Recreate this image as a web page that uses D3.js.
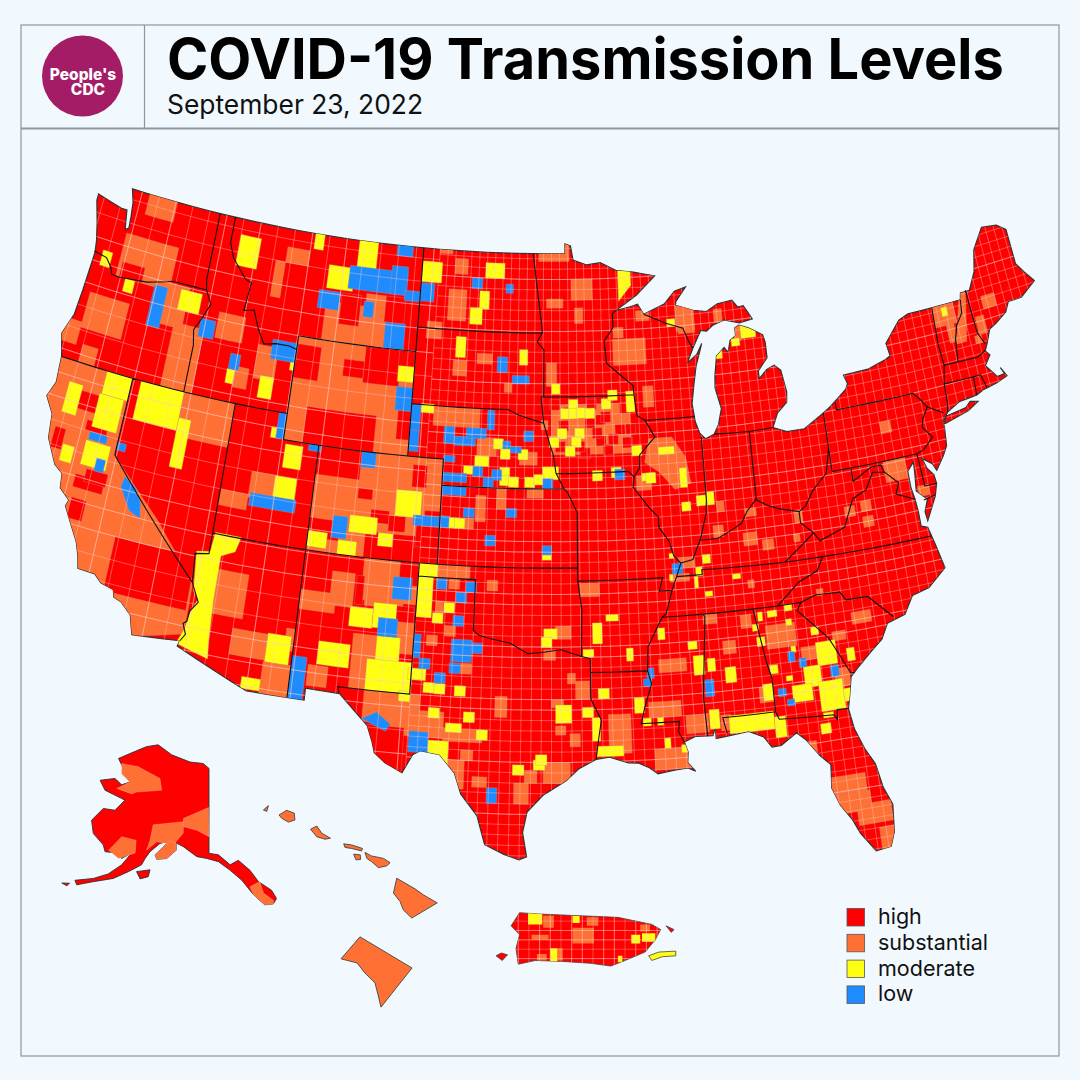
<!DOCTYPE html>
<html>
<head>
<meta charset="utf-8">
<script src="https://cdn.jsdelivr.net/npm/d3@7"></script>
<style>
html,body{margin:0;padding:0;background:#f1f9ff;}
svg{display:block;font-family:Inter,"Noto Sans",sans-serif;}
</style>
</head>
<body>
<svg width="1080" height="1080"></svg>
<script>
var levelNames = ["high","substantial","moderate","low"];
var levelColors = ["#ff0000","#ff7034","#ffff14","#1e8cff"];

// outlines, lon/lat
var lowerOutline = [[-124.7,48.4],[-123.1,48.15],[-122.75,48.15],[-122.55,47.4],[-122.35,47.5],[-122.4,47.95],[-122.5,48.5],[-122.75,49],[-95.15,49],[-95.15,49.38],[-94.8,49.3],[-94.65,48.75],[-93.8,48.55],[-92.95,48.62],[-92,48.3],[-90.9,48.2],[-89.6,48],[-90.8,47.3],[-92.1,46.75],[-91.2,46.87],[-90.75,46.95],[-90.4,46.55],[-89.1,46.9],[-88.45,47.35],[-87.75,47.47],[-88.4,46.95],[-88.45,46.8],[-87.4,46.55],[-86.6,46.45],[-85.9,46.7],[-85,46.77],[-84.7,46.48],[-84.35,46.5],[-84.1,46.2],[-83.9,45.95],[-84.7,45.87],[-85.6,46.05],[-86.3,45.9],[-86.7,45.7],[-87.05,45.75],[-87.6,45.1],[-88,44.55],[-87.4,44.85],[-87.05,45.25],[-87.5,44.4],[-87.7,43.75],[-87.9,43],[-87.8,42.3],[-87.6,41.85],[-87.3,41.62],[-86.8,41.75],[-86.5,42.1],[-86.25,42.7],[-86.5,43.5],[-86.45,43.95],[-86.25,44.7],[-85.75,45],[-85.55,44.8],[-85.35,45.25],[-85,45.4],[-85,45.7],[-84.75,45.78],[-84.2,45.63],[-83.4,45.3],[-83.3,45],[-83.3,44.4],[-83.9,43.95],[-83.9,43.65],[-83.4,43.95],[-82.95,44.07],[-82.6,43.85],[-82.42,43],[-82.5,42.6],[-83.1,42.25],[-83.45,41.73],[-82.7,41.5],[-81.7,41.5],[-80.5,41.98],[-80.1,42.15],[-79.05,42.7],[-78.9,42.9],[-79.05,43.25],[-77.6,43.28],[-76.5,43.5],[-76.2,43.6],[-76.3,44.1],[-75.3,44.85],[-74.7,45],[-71.5,45],[-71.4,45.25],[-70.85,45.25],[-70.3,45.9],[-70,46.7],[-69.2,47.45],[-68.3,47.35],[-67.8,47.07],[-67.8,45.7],[-67.45,45.3],[-67,44.85],[-68,44.4],[-68.8,44.4],[-69.1,44.05],[-69.8,43.75],[-70.25,43.6],[-70.6,43.1],[-70.8,42.85],[-70.6,42.65],[-71,42.3],[-70.65,41.95],[-70.5,41.78],[-70.05,41.8],[-70.2,42.07],[-69.95,41.7],[-70.6,41.55],[-71.15,41.48],[-71.4,41.45],[-71.85,41.32],[-72.9,41.25],[-73.65,40.98],[-74,40.7],[-74,40.45],[-74.1,39.75],[-74.4,39.4],[-74.9,38.93],[-75.05,39.2],[-75.55,39.5],[-75.4,39.1],[-75.1,38.8],[-75.05,38.45],[-75.25,38],[-75.9,37.15],[-75.95,37.5],[-75.7,37.95],[-76.2,38.35],[-76.1,39],[-76.05,39.45],[-76.45,39.15],[-76.45,38.5],[-76.35,38.05],[-76.3,37.55],[-76.3,37],[-75.97,36.9],[-75.75,36.2],[-75.5,35.25],[-76.5,34.65],[-77.4,34.5],[-77.95,33.85],[-78.9,33.65],[-79.3,33.1],[-79.95,32.7],[-80.7,32.2],[-81.1,31.9],[-81.3,31.2],[-81.45,30.7],[-81.3,29.9],[-80.95,29.1],[-80.55,28.45],[-80.35,27.5],[-80.03,26.8],[-80.15,25.75],[-80.4,25.2],[-81.1,25.13],[-81.7,25.9],[-82,26.5],[-82.45,27.1],[-82.75,27.8],[-82.65,28.7],[-83.1,29.1],[-83.7,29.8],[-84.1,30.1],[-84.9,29.7],[-85.35,29.68],[-85.7,30.1],[-86.4,30.38],[-87.5,30.28],[-88,30.23],[-88,30.65],[-88.15,30.35],[-89,30.38],[-89.55,30.2],[-89.4,29.8],[-89.45,29.4],[-89.1,29.05],[-89.45,29.2],[-90.1,29.15],[-90.9,29.05],[-91.3,29.3],[-91.8,29.5],[-92.3,29.53],[-93.2,29.77],[-93.85,29.7],[-94.7,29.35],[-95.3,28.9],[-96.4,28.35],[-97.15,27.7],[-97.35,26.9],[-97.15,25.97],[-97.5,25.85],[-98.2,26.05],[-99.1,26.4],[-99.5,27.5],[-100.3,28.3],[-100.65,29.1],[-101.4,29.77],[-102.35,29.87],[-102.7,29.7],[-103.15,28.98],[-104,29.3],[-104.55,29.65],[-104.7,30.05],[-105,30.65],[-106.5,31.75],[-108.2,31.78],[-108.2,31.33],[-111.07,31.33],[-114.8,32.5],[-114.72,32.72],[-117.12,32.53],[-117.25,32.85],[-117.4,33.25],[-118,33.65],[-118.4,33.75],[-118.5,34.02],[-119.2,34.15],[-119.6,34.42],[-120.5,34.45],[-120.65,34.9],[-120.9,35.4],[-121.9,36.6],[-121.8,36.85],[-122.4,37.2],[-122.5,37.75],[-123,38],[-123.7,38.9],[-123.85,39.8],[-124.4,40.4],[-124.1,41],[-124.2,42],[-124.55,42.85],[-124.15,43.7],[-124.05,44.7],[-123.95,46.2],[-124.05,46.65],[-124.3,47.3],[-124.7,48.15]];
var longIsland = [[-74,40.6],[-73.75,40.85],[-72.6,40.97],[-72.3,41.15],[-71.87,41.07],[-72.5,40.83],[-73.9,40.58]];

var stateBorders = [
[[-124,46.25],[-123.2,46.15],[-122.8,45.85],[-122.65,45.6],[-122.2,45.58],[-121.2,45.65],[-120.5,45.7],[-119.3,45.93],[-119,46],[-116.92,46]],
[[-116.92,46],[-116.5,45.5],[-116.85,44.9],[-117.2,44.4],[-117.03,43.83],[-117.03,42]],
[[-117.04,49],[-117.04,46.4],[-116.92,46]],
[[-124.2,42],[-111.05,42]],
[[-120,42],[-120,39],[-114.63,35]],
[[-114.63,35],[-114.15,34.3],[-114.5,33.9],[-114.55,33.5],[-114.72,33.4],[-114.5,33],[-114.72,32.72]],
[[-114.04,42],[-114.04,36.2],[-114.75,36.1],[-114.63,35]],
[[-116.05,49],[-116.05,48],[-115.7,47.45],[-114.75,46.75],[-114.35,46.65],[-114.5,45.55],[-113.9,45.65],[-113.45,44.95],[-113,44.45],[-112.3,44.55],[-111.5,44.55],[-111.05,44.47]],
[[-111.05,45],[-111.05,41],[-109.05,41]],
[[-111.05,45],[-104.05,45]],
[[-104.05,49],[-104.05,41]],
[[-109.05,41],[-102.05,41],[-102.05,37]],
[[-109.05,41],[-109.05,31.33]],
[[-114.04,37],[-94.62,37]],
[[-103,37],[-103.04,32],[-106.62,32],[-106.53,31.78]],
[[-102.05,40],[-95.3,40]],
[[-103,36.5],[-100,36.5],[-100,34.56],[-99.7,34.4],[-99.2,34.3],[-98.1,34.13],[-97.2,33.75],[-96.5,33.8],[-95.5,33.9],[-94.48,33.64],[-94.04,33.55],[-94.04,32],[-93.55,31.2],[-93.7,30.5],[-93.85,29.7]],
[[-94.43,35.4],[-94.48,33.64]],
[[-94.62,37],[-94.62,36.5],[-94.43,35.4]],
[[-94.62,37],[-94.6,39.1],[-95.1,39.85],[-95.3,40],[-95.75,40.6],[-95.9,41.3],[-96.1,41.7],[-96.45,42.5],[-96.6,43.5],[-96.45,43.5],[-96.45,45.3],[-96.85,45.6],[-96.55,45.95],[-96.6,46.3],[-96.85,47.5],[-97.15,49]],
[[-104.05,43],[-98.5,43],[-97.9,42.8],[-96.45,42.5]],
[[-104.05,45.94],[-96.55,45.94]],
[[-96.45,43.5],[-91.22,43.5]],
[[-95.75,40.58],[-91.73,40.6],[-91.42,40.38]],
[[-92.1,46.75],[-92.3,46.65],[-92.3,46.1],[-92.85,45.6],[-92.75,44.75],[-91.25,43.85],[-91.22,43.5],[-91.1,42.7],[-90.65,42.5],[-90.15,41.85],[-91.05,41.2],[-91.1,40.7],[-91.42,40.38],[-91.5,40],[-90.75,39.25],[-90.2,38.8],[-90.2,38.4],[-89.7,37.85],[-89.5,37.3],[-89.15,37],[-89.42,36.5],[-89.7,36],[-90.07,35.13],[-90.3,35],[-90.6,34.6],[-91.1,33.9],[-91.17,33],[-91,32.5],[-91.4,31.6],[-91.6,31],[-89.73,31],[-89.8,30.6],[-89.55,30.2]],
[[-90.65,42.5],[-87.8,42.5]],
[[-90.4,46.55],[-89.1,46.15],[-88.1,45.9],[-87.8,45.35],[-87.6,45.1]],
[[-87.53,41.7],[-87.53,39.35],[-87.6,38.8],[-87.95,38],[-88.05,37.8]],
[[-89.15,37],[-88.5,37.1],[-88.05,37.8],[-87.1,37.8],[-86.5,38],[-85.75,38.27],[-85.4,38.7],[-84.85,39.1],[-84.3,38.85],[-83.7,38.65],[-82.6,38.42],[-82.2,38.6],[-81.75,39.1],[-80.85,39.7],[-80.52,40.64]],
[[-84.8,41.7],[-84.82,39.1]],
[[-86.8,41.76],[-84.8,41.7],[-83.45,41.73]],
[[-80.52,41.98],[-80.52,39.72]],
[[-79.76,42.27],[-79.76,42],[-75.35,42],[-75.05,41.75],[-74.7,41.36],[-75.1,40.95],[-75.2,40.65],[-74.75,40.2],[-75.4,39.8]],
[[-74.7,41.36],[-73.9,41]],
[[-80.52,39.72],[-75.78,39.72],[-75.7,38.46],[-75.05,38.45]],
[[-75.78,39.72],[-75.4,39.8]],
[[-75.9,37.95],[-75.25,38.03]],
[[-79.48,39.72],[-79.48,39.2],[-78.4,39.6],[-77.83,39.6],[-77.72,39.32],[-77.05,38.8],[-77.3,38.4],[-76.35,38.05]],
[[-77.72,39.32],[-78.35,39.4],[-78.85,38.8],[-79.65,38.55],[-80.3,37.55],[-81.7,37.2],[-81.97,37.54]],
[[-82.6,38.42],[-82.6,38],[-81.97,37.54],[-83.68,36.6]],
[[-75.87,36.55],[-81.68,36.59],[-83.68,36.6],[-86.5,36.65],[-88.07,36.68],[-88.07,36.5],[-89.42,36.5]],
[[-81.68,36.59],[-82.05,36.1],[-83.1,35.77],[-84.32,34.99]],
[[-90.3,35],[-84.32,34.99],[-83.11,35]],
[[-83.11,35],[-82.3,35.2],[-81.05,35.15],[-80.8,34.82],[-79.67,34.8],[-78.55,33.86]],
[[-83.11,35],[-83.35,34.7],[-82.75,34.2],[-81.95,33.5],[-81.4,32.6],[-81.1,32.05],[-80.9,32.03]],
[[-85.6,34.98],[-85.18,32.87],[-85,32.3],[-85,31]],
[[-87.45,30.4],[-87.6,31],[-85,31],[-84.86,30.7],[-82.2,30.57],[-82.05,30.37],[-82,30.75],[-81.45,30.72]],
[[-88.2,35],[-88.1,34.9],[-88.47,31.9],[-88.4,30.35]],
[[-89.7,36],[-90.37,36],[-90.15,36.5],[-94.62,36.5]],
[[-94.04,33.02],[-91.17,33]],
[[-73.5,42.05],[-73.55,41.3],[-73.65,41]],
[[-73.25,45],[-73.35,43.6],[-73.27,42.75],[-73.5,42.05],[-71.8,42.02],[-71.38,42.02],[-71.2,41.5]],
[[-71.8,42.02],[-71.85,41.32]],
[[-73.27,42.75],[-72.46,42.73],[-71.3,42.7],[-70.8,42.87]],
[[-71.5,45],[-71.6,44.5],[-72.05,44.1],[-72.3,43.6],[-72.46,42.73]],
[[-71.08,45.3],[-71,43.6],[-70.7,43.1]]
];

// county groups: [west, north, east, south]
var substantialBoxes = [[-121.6,49.2,-119.8,48.2],[-122.4,47.3,-119.1,45.6],[-123.6,44.7,-121.2,43.3],[-124.6,43.5,-123.6,42.6],[-119.3,45.9,-117.9,44.3],[-118.4,44.5,-116.6,41.9],[-123.2,42.7,-122.3,41.9],[-115.9,45.3,-114.3,44.3],[-113.3,44.4,-112.1,43.1],[-114.4,43.4,-113.6,42.6],[-112.5,48.3,-111.1,47.7],[-113.1,47.7,-112.5,46.3],[-109.7,46.5,-106,45],[-107.3,47,-106.1,45.6],[-111.05,45,-104.05,41],[-117,42,-114.04,40.3],[-114,38.7,-112.5,38.1],[-112.5,39.6,-111.1,38.6],[-109.05,41,-102.05,37],[-113.5,35.7,-111.8,34],[-112.2,33.6,-110.4,32.6],[-110.45,32.55,-109.05,31.3],[-109.5,33.95,-109.05,33.1],[-105.9,37,-103,35.4],[-107.5,36.35,-106.3,35.05],[-109.05,35.5,-107.2,34.75],[-105.7,36.1,-103.7,35.2],[-103.9,34.7,-103,33.5],[-106.1,34.1,-104.7,32],[-108.2,32.7,-107.2,31.9],[-102,37,-100.3,36.5],[-105.3,32,-102.5,30.8],[-103.9,31.4,-101.3,30.4],[-101.3,30.8,-99.4,30.3],[-101,29.6,-100.2,28.5],[-100.4,30,-99.8,29.6],[-98.8,32.1,-98.2,31.3],[-99.8,29,-99.1,28.6],[-97.8,28.8,-97.1,28],[-97.3,29.3,-96.7,28.8],[-102,35.6,-101.6,35.1],[-96.4,29.6,-95.1,28.8],[-96,32,-95.4,31.7],[-95.8,31,-95.3,30.65],[-95.1,30.7,-94.6,30.2],[-94.8,32.7,-94.1,32],[-95.2,33,-94.8,32.6],[-96.4,33.9,-95.8,33.5],[-103,49.1,-102.2,48.85],[-102,48.7,-101.2,48.1],[-102.3,47.5,-101.2,46.3],[-96.8,49.4,-94.9,48.7],[-94.8,48,-93.5,47.2],[-96.3,47.25,-95.3,46.9],[-94.6,46.9,-94.1,46.3],[-103.5,46.2,-102.6,45.55],[-101.8,44.8,-101,44.2],[-100.4,45.1,-99.5,44.7],[-98.75,44,-98.3,43.65],[-102.75,43,-100.1,42.25],[-96.6,42.6,-96.2,42.25],[-100.2,41.9,-99.1,41.2],[-97.8,41.4,-96.8,40.9],[-100.15,39.7,-99.6,38.7],[-99,40,-98.5,39.2],[-97.35,40,-96.45,39.65],[-96.3,44.8,-95.7,43.9],[-92.35,45.65,-90.4,44.65],[-88.5,46.8,-87.4,45.8],[-90.9,46.7,-90.1,46.3],[-92.3,46.1,-91.7,45.7],[-90.7,43.8,-90.1,43],[-96,43.2,-91.5,41.3],[-91.3,40.4,-90.5,39.85],[-95.8,34.8,-95,34.3],[-94.5,36.4,-93.5,35.9],[-93.2,31.4,-92.1,29.9],[-91,30,-89.2,29.2],[-90.6,33.4,-89.2,32.9],[-91.2,31.8,-89.6,31.2],[-89.4,31.2,-88.3,30.5],[-88.2,35,-87.5,34.6],[-87.3,33.9,-86.65,33.4],[-86.3,34.8,-85.75,34.3],[-87.7,31.1,-87.2,30.5],[-85.7,32,-85,31.4],[-85.07,34.3,-83.57,33.4],[-81.9,32.3,-81.15,31.6],[-83.4,33.3,-82.55,32.8],[-89.25,37.2,-88.4,36.8],[-89.75,36.6,-88.75,36.3],[-87.3,38.3,-86.75,37.85],[-85.73,37.9,-85,37.4],[-84.75,37.55,-84.15,37.15],[-85.73,36.1,-85.4,35.8],[-83.07,37.6,-82.73,37.3],[-80.65,34.3,-79.65,33.85],[-81.75,33.7,-81.07,33.35],[-82.25,35.4,-81.9,35.15],[-83.2,28.2,-81.1,27.5],[-82.9,27.5,-81,26.75],[-81.7,27,-80.1,26.2],[-80.8,26,-80.1,25.1],[-83.8,29.7,-83.2,29.05],[-73.3,45,-72,44.2],[-72.65,44.2,-72.2,43.5],[-70.9,44.2,-70.4,43.5],[-70.3,44.9,-69.5,44.4],[-71.2,43.5,-70.8,43.2],[-85.1,45.8,-84.7,45.2],[-88.4,46.9,-87.4,45.7],[-86.2,46.5,-85.7,46],[-77.5,41.2,-76.9,40.75],[-77.7,39.7,-76.5,38.9],[-76.1,38.5,-75.5,38.1],[-87,39.2,-86.6,38.8],[-85.5,38.8,-84.9,38.5],[-82.9,38.5,-82.45,38]];
var substantialCells = [[-101.1,36.3],[-102.1,34.1],[-101.2,34.5],[-100.3,33.1],[-99.1,36.3],[-100.5,38.6],[-79,37.6],[-79.9,38.1],[-79,38.2]];
var substantialShapes = [
[[-124.6,42],[-120,42],[-120,39],[-117,37],[-114.6,35],[-114.6,33],[-117,32.5],[-120.8,34.4],[-124.6,40]],
[[-90.5,41.8],[-89.2,41.8],[-88.5,41],[-88.3,40],[-89.2,39.8],[-90,40.5],[-90.8,40.9]],
[[-71.5,45.25],[-71.1,45.25],[-71.7,43.4],[-72.3,43.4]]
];

var highBoxes = [[-122.2,46.2,-120.8,45.6],[-111.05,44.7,-109.6,43.4],[-108.2,44.4,-107,43.75],[-107,45,-104.9,43.6],[-105,45,-104.05,44.2],[-110,42.4,-106,41],[-104.8,42.7,-104.05,41.6],[-108.8,46.9,-107.6,45.7],[-106.1,47,-104.9,46],[-119,36,-114.7,33.9],[-123,41,-121.5,40.3],[-121.9,40,-120.7,39.6],[-123.5,39.4,-122.9,38.6],[-121.8,37.9,-120.2,37.4],[-121.7,37,-120.9,36.2],[-121.3,38.2,-120.1,37.7],[-109.05,41,-106.6,39.9],[-106.6,39.6,-105.8,39.2],[-105.8,38.85,-104.8,38.35],[-109.05,38.25,-107.4,37.5],[-106,38,-102.05,37],[-103.3,38.5,-102.05,37.6],[-104.8,38.7,-103.9,38.1],[-103.7,40.7,-102.9,39.85],[-102.9,39,-102.05,38.6],[-104,37,-103,36.1],[-106.2,36.3,-105.8,35.2],[-104.1,35.3,-103.1,34.7],[-105.2,30.7,-103.2,28.9]];
var highCells = [[-95.8,43.2],[-93.7,43.2],[-93.8,42.5],[-93.2,42.6],[-92.1,42.2],[-91.5,42.2],[-93.2,41.8],[-92.5,41.85],[-91.7,41.7],[-95.3,42.4],[-93.4,42.1],[-94.1,41.35],[-95,42.9],[-92.9,42.7],[-94.4,41.6],[-92.8,41.45],[-91.8,43],[-95.5,41.6]];

var moderateBoxes = [[-115.5,48.4,-114.2,47.2],[-110.9,49.1,-110.3,48.4],[-108.1,49.1,-106.9,47.9],[-109.8,47.9,-108.2,47],[-105,44.4,-104.05,43.8],[-118.4,45.8,-117.1,45],[-123.5,46.4,-122.9,45.8],[-121.8,45.6,-121.2,45.1],[-114.85,43.25,-114.4,42.7],[-112.9,43.25,-112.1,42.4],[-111.3,44.05,-111.05,43.65],[-123.4,41.2,-122.6,40],[-121.5,42,-120,41.1],[-121.6,41.1,-120.2,39.8],[-122.85,38.85,-122.2,38.2],[-121.7,39.25,-120.3,38.3],[-119.5,42,-117,40.5],[-117,41,-116.3,39.1],[-111.8,41.4,-111.2,41],[-110.9,40.85,-109.9,39.95],[-111.2,39.6,-110,38.6],[-104.5,39.7,-103.1,38.7],[-106.9,38.55,-105.4,37.9],[-105.3,38,-104.5,37.5],[-109.05,37.75,-108,37.15],[-107.4,37.55,-106.4,37],[-110.4,33.65,-109.2,32.55],[-111.4,31.85,-110.45,31.4],[-106.4,35.1,-105.2,34.35],[-105.2,35.35,-104,34.4],[-104.9,34.1,-103.7,33.1],[-105.3,33.2,-103,32],[-107.8,33.65,-106.2,32.75],[-103,36.5,-102.2,34.95],[-103,37,-102,36.5],[-102,30.3,-101,29.25],[-101.2,31,-100.4,30.65],[-103.2,33,-102.3,32.55],[-95.8,31.8,-95,31.1],[-94,31.3,-93.6,30.4],[-93.8,30.2,-92.5,29.8],[-104.05,48.5,-102.8,47.7],[-100.1,48.6,-98.9,48],[-100.4,47.5,-99.8,46.8],[-100.95,46.85,-100.2,46.2],[-101.7,45.7,-101.1,44.9],[-97.9,45.3,-97.4,44.7],[-96,44,-95.5,43.6],[-91.7,43.65,-91.2,42.85],[-103.5,43.05,-102.75,42.7],[-100.3,41.2,-99.5,40.8],[-100.9,40.8,-100.1,40.48],[-96.5,40.85,-95.6,40.35],[-89.05,46.3,-88.55,46],[-96.4,34.7,-95.7,34.3],[-93.9,34.9,-93.4,34.1],[-93.2,35.2,-92.55,34.95],[-92.2,33.9,-91.85,33.4],[-94.4,33.9,-93.85,33.6],[-91.9,32,-91.4,31.4],[-91.5,31.2,-91.1,30.9],[-90.8,31.2,-90.5,30.9],[-90.5,30.4,-90.2,30],[-89.7,30.1,-89.2,29.8],[-90.57,34.6,-90.2,34.15],[-89.07,34,-88.6,33.7],[-88.85,33.45,-88.3,32.7],[-88.15,33.3,-87.75,32.8],[-87.3,32.9,-86.75,32.3],[-85.5,32.1,-85,31.45],[-88.25,31.35,-87.75,30.6],[-87.3,31.05,-85.1,30.35],[-85.1,30.8,-84.55,30],[-82.9,30.3,-82.4,29.9],[-82.7,30.7,-82.2,30.5],[-82.65,33.4,-81.65,32.5],[-83.4,32.55,-82.55,31.75],[-82.75,31.9,-81.55,30.75],[-81.57,31.5,-81.15,31],[-84.07,31.9,-83.07,31.25],[-84.3,32.3,-83.97,32.1],[-83.9,33.4,-83.65,33.15],[-81.15,33,-80.75,32.5],[-85.07,32.78,-84.65,32.45],[-85.57,33.9,-85.15,33.55],[-85.73,34.4,-85.4,34.15],[-85.4,34.85,-85.15,34.5],[-84.9,34.85,-84.4,34.6],[-84,35,-83.6,34.75],[-84,34.45,-83.7,34.2],[-82.8,34,-82.4,33.7],[-88,37.25,-87.57,36.9],[-88.4,36.8,-88.05,36.45],[-88.5,36.45,-88.3,36],[-86.5,36.4,-86.07,36.2],[-88,35.85,-87.6,35.65],[-89.75,37.4,-89.5,37.2],[-89.8,36.6,-89.6,36.35],[-72.75,44.9,-72.4,44.55],[-84.7,45.8,-83.8,45.25],[-85.3,45.3,-84.8,45],[-86.4,45,-85.9,44.6],[-88.9,39.3,-88.4,38.95],[-87.5,39.6,-87.1,39.1],[-88.9,40.6,-88.5,39.85],[-91,40.5,-90.3,40.2],[-90,41.45,-89.1,41.15],[-96.5,37.5,-96,37.3]];
var moderateCells = [[-101.3,35.38],[-101.87,34.96],[-102.76,32.78],[-102.12,32.3],[-101.58,32.28],[-100.56,32.24],[-103.3,31.9],[-101.8,31.35],[-100.06,31.26],[-99.4,30.6],[-97.6,29.3],[-96.6,29.5],[-96.25,34.18],[-96.5,29.7],[-94.2,31.5],[-94.75,43.2],[-92.85,43.2],[-92.47,43.52],[-95.2,42.86],[-94.75,42.86],[-94.3,42.88],[-93.8,42.86],[-95.4,42.1],[-94.4,42.1],[-95.85,41.77],[-94.6,41.77],[-94.95,41.43],[-91.2,41.37],[-90.5,40.3],[-87.8,39.3],[-93.45,40.48],[-92.4,40.58],[-99,41.68],[-98.6,41.3],[-97.6,41.3],[-98.6,40.6],[-98.6,40.3],[-98.1,40.25],[-97.2,40.25],[-96.7,40.35],[-101.4,38.6],[-100.97,38.6],[-93.4,32.2]];
var moderateShapes = [
[[-113.9,37.05],[-112.5,37.05],[-112.7,36.46],[-113.4,36.2],[-113.4,34.5],[-113.3,33],[-113.2,32.25],[-114.9,32.6],[-114.6,33.2],[-114.5,33.8],[-114.2,34.4],[-114.5,34.7],[-114.7,36.2],[-114,36.3]],
[[-91.9,48.35],[-91.1,48.3],[-91.1,47.7],[-91.9,47.1]]
];

var lowBoxes = [[-108.5,48,-104.9,47.1],[-105.9,48.2,-104.9,47.1],[-110.2,46.9,-108.9,46.2],[-107.4,46.7,-106.8,46.1],[-106,46,-104.8,45],[-105.7,49.1,-104.7,48.6],[-105,47.3,-104,46.9],[-105,43.6,-104.05,42.7],[-104.05,43,-103.5,42],[-104.05,42,-103.5,41.2],[-120,45.7,-119.2,44.1],[-116.9,44.9,-116,44.2],[-114.8,43.85,-114.2,43.25],[-112.5,44.7,-111,43.95],[-121.6,39.6,-120.6,39.3],[-120.9,38.7,-120.4,38.2],[-120,39.5,-119.5,39.2],[-111.5,42,-111.05,41],[-112.4,38.8,-109.9,38.3],[-109.6,41,-108.9,40.75],[-106.6,41,-105.8,40.4],[-107.8,38.45,-107,37.6],[-103.5,38.8,-102.05,38.4],[-102.05,38.85,-101.55,38.4],[-109.05,32.95,-108.3,31.3],[-104.3,36.4,-103.3,35.55],[-104.9,34.8,-103.9,34.1],[-101.1,34.2,-100.05,33.35],[-103.05,34.3,-102.65,33.4],[-102.95,30.6,-102,29.8],[-99.1,28.6,-98.6,28],[-104.05,47.65,-103.2,46.95],[-100.9,48,-100.25,47.57],[-98.8,47.8,-98.35,47.45],[-99.2,45,-98.6,44.4],[-98.3,44.3,-97.3,43.98],[-99.66,42.95,-99.25,42.2],[-102.1,42.25,-101.5,41.6],[-101.5,41.9,-100.3,41.55],[-100.85,42.25,-99.7,41.85],[-102.05,41.15,-101.4,40.9],[-98.75,41.8,-98.3,41.5],[-98.3,41.6,-97.7,41.35],[-102.05,40.5,-100.7,40.15],[-102.05,40,-100.7,39.65],[-100.8,39.2,-100.2,38.85],[-98.47,39.25,-97.9,38.9],[-96.5,37.85,-96,37.5],[-91.4,32.7,-91,32.4],[-91.2,33.1,-90.85,32.7],[-88.35,32.5,-87.9,31.85],[-84.1,33.2,-83.75,32.8],[-83.57,32.9,-83.2,32.55],[-82.07,32.45,-81.65,32],[-84.77,31.85,-84.37,31.55],[-84.37,31.4,-84,31.15]];
var lowCells = [[-101.75,36.27],[-100.7,35.79],[-100.2,36.2],[-100.8,34.9],[-99.8,33.9],[-100.87,33.1],[-102.4,33.2],[-101.6,32.7],[-97.3,42],[-100.1,40.6],[-99.05,40.5],[-99.5,40.2],[-96.2,40.2],[-99.3,38],[-92.2,40.5],[-89.35,36.8]];
var lowShapes = [
[[-119.2,38.3],[-118.5,38],[-118.1,37.5],[-117.95,36.9],[-118.6,37.1],[-119.3,37.9]],
[[-104.6,31.2],[-103.9,30.8],[-104.1,30.5],[-105.3,30.9]]
];

// Alaska, drawn with a plain lon/lat frame
var alaskaOutline = [[-141,69.6],[-141,60.26],[-138.9,60.1],[-136.3,59],[-134.5,59.5],[-131.9,58.4],[-130,57.15],[-127.1,56.2],[-126,55.3],[-126.7,54.7],[-128.6,54.6],[-131.1,55.7],[-133.7,57.3],[-136.3,58.4],[-138.9,59.35],[-141.5,59.7],[-143.7,59.9],[-146.7,61],[-148.3,61.4],[-148.3,60.6],[-150.4,59.7],[-152.6,59.6],[-153,60.1],[-151.1,61],[-149.7,61.65],[-151.9,61.35],[-154.1,60.45],[-155.2,59.7],[-156,59],[-158.9,58.25],[-162.3,57.5],[-166.7,57.15],[-170.4,56.8],[-170.8,57.3],[-166.7,57.5],[-163.4,58],[-160.4,59],[-158.2,60.3],[-160.4,59.7],[-161.5,60.3],[-164.1,60.45],[-164.5,61.2],[-166.7,62.45],[-167.1,63.9],[-164.5,65.2],[-161.9,65],[-159.7,66.1],[-160.4,66.3],[-164.1,67.2],[-165.2,68.3],[-161.9,68.5],[-160.4,67.8],[-158.6,68.1],[-161.1,70.7],[-157.8,71.4],[-154.9,72],[-152.3,72.2],[-149.3,71.1],[-145.2,70.3],[-142.3,70.15]];
var alaskaIslands = [[[-157.1,58.25],[-154.1,58.45],[-154.5,57.7],[-156.3,57.45]],[[-173.7,57],[-172,56.97],[-172.6,56.7]]];
var alaskaSubstantial = [
[[-160.4,70.15],[-156.7,69.8],[-151.9,68.5],[-151.5,67.2],[-157.1,67],[-158.2,66.8],[-161.5,67.4],[-158.6,68.1],[-160.4,69]],
[[-160.4,62.1],[-157.2,61.7],[-157.4,60.3],[-161.1,59.7],[-163.3,60.6]],
[[-153.4,63.4],[-146.7,63.75],[-146.7,62.5],[-148.9,61.2],[-152.6,61.55],[-154.9,60.6],[-154.1,61.7]],
[[-148.3,61.4],[-148.3,60.6],[-150.4,59.7],[-152.6,59.6],[-153,60.1],[-151.1,61],[-149.7,61.65]],
[[-146.7,64.1],[-141.1,65.3],[-141,62.1],[-143.7,62.8],[-146.7,63.2]],
[[-131.9,56.6],[-129.7,57.15],[-128.9,55.9],[-126.7,55.1],[-126.7,54.7],[-128.6,54.6],[-131.1,55.7]]
];

var hawaiiIslands = [
[[-156,20.2],[-155.45,19.9],[-155.2,19.73],[-154.78,19.5],[-155.55,19.07],[-155.8,19.3],[-155.9,19.54],[-156.1,19.78]],
[[-156.96,20.93],[-156.76,20.83],[-156.4,20.76],[-156.2,20.64],[-156.3,20.55],[-156.55,20.5],[-156.76,20.67],[-156.9,20.76]],
[[-157.3,20.88],[-157.1,20.86],[-157.09,20.73],[-157.23,20.72]],
[[-157.6,21.17],[-157.36,21.14],[-157.03,21.04],[-157.06,20.97],[-157.36,21.04],[-157.56,21.07]],
[[-158.6,21.58],[-158.41,21.67],[-158.26,21.47],[-158,21.33],[-158.16,21.3],[-158.41,21.37]],
[[-159.55,21.98],[-159.32,22.11],[-159.09,22.03],[-159.07,21.84],[-159.27,21.78],[-159.47,21.89]],
[[-160.02,22.12],[-159.87,22.24],[-159.92,22.08]]
];

var prMain = [[-67.185,18.49],[-66.97,18.476],[-66.08,18.44],[-65.7,18.365],[-65.6,18.31],[-65.66,18.2],[-65.775,18.07],[-66,17.98],[-66.16,17.92],[-66.39,17.95],[-66.7,17.97],[-67.01,17.98],[-67.2,17.94],[-67.225,18.11],[-67.185,18.255],[-67.28,18.35]];
var prIslands = [[[-67.45,18.03],[-67.39,18.06],[-67.32,18.04],[-67.38,17.98]],[[-65.54,18.35],[-65.45,18.31],[-65.48,18.28]]];
var virginIsland = [[-65.735,18.03],[-65.62,18.07],[-65.43,18.08],[-65.43,18.03],[-65.58,18.02],[-65.7,17.98]];
var prModerate = [[-67.09,18.49,-66.93,18.365],[-66.59,18.457,-66.51,18.38],[-65.93,18.255,-65.83,18.16],[-65.81,18.27,-65.66,18.18],[-66.84,18.11,-66.76,17.96],[-66.08,18.03,-66.03,17.96]];
var prSubstantial = [[-66.92,18.457,-66.8,18.33],[-66.43,18.44,-66.3,18.35],[-65.83,18.365,-65.72,18.29],[-67.05,18.255,-66.86,18.2],[-66.59,18.33,-66.35,18.16],[-66.99,18.05,-66.88,17.98],[-66.76,18.11,-66.7,17.98]];

var dcOutline = [[-77.076,38.988],[-76.878,38.896],[-76.996,38.78],[-77.007,38.816],[-77.019,38.852],[-77.057,38.881],[-77.087,38.911],[-77.148,38.923]];

function densify(ring) {
  var out = [];
  ring.forEach(function(p,i) {
    if (i == 0) { out.push(p); return; }
    var q = ring[i-1];
    var n = Math.ceil(Math.max(Math.abs(p[0]-q[0]),Math.abs(p[1]-q[1])));
    for (var k=1;k<=n;k++) out.push([q[0]+(p[0]-q[0])*k/n,q[1]+(p[1]-q[1])*k/n]);
  });
  return out;
}
function polygon(ring) {
  var r = densify(ring.concat([ring[0]]));
  var f = {type:"Polygon",coordinates:[r]};
  if (d3.geoArea(f) > 2*Math.PI) f.coordinates[0] = r.slice().reverse();
  return f;
}
function box(b) { return polygon([[b[0],b[1]],[b[2],b[1]],[b[2],b[3]],[b[0],b[3]]]); }
function cell(c) { return box([c[0]-0.28,c[1]+0.2,c[0]+0.28,c[1]-0.2]); }

var svg = d3.select("svg");
var frame = svg.append("g").attr("fill","none").attr("stroke","#8e979f").attr("stroke-width",1.2);
frame.append("rect").attr("x",21).attr("y",25).attr("width",1038).attr("height",1031);
frame.append("line").attr("x1",21).attr("x2",1059).attr("y1",128.5).attr("y2",128.5).attr("stroke-width",2);
frame.append("line").attr("x1",144.5).attr("x2",144.5).attr("y1",25).attr("y2",128);

svg.append("circle").attr("cx",82.5).attr("cy",76).attr("r",40.5).attr("fill","#a51c66");
var logo = svg.append("text").attr("text-anchor","middle").attr("font-weight",800).attr("font-size",15.5).attr("fill","#fff");
logo.append("tspan").attr("x",83).attr("y",80).text("People's");
logo.append("tspan").attr("x",88).attr("y",94.5).text("CDC");
svg.append("text").attr("x",167).attr("y",79).attr("font-weight",700).attr("font-size",55.9).attr("fill","#000").text("COVID-19 Transmission Levels");
svg.append("text").attr("x",167).attr("y",114).attr("font-size",26.4).attr("fill","#111").text("September 23, 2022");

var albers = d3.geoAlbers().rotate([96,0]).center([0,37.5]).parallels([29.5,45.5]).scale(1369).translate([551.5,555]);
var stretchY = 1.093;
var stretch = d3.geoTransform({point:function(x,y){ this.stream.point(x,555+(y-555)*stretchY); }});
var proj = {stream:function(s){ return albers.stream(stretch.stream(s)); }};
var path = d3.geoPath(proj);

var meshColor = "rgba(255,205,195,0.55)";
var patchLine = "rgba(190,150,140,0.7)";

var landFeature = {type:"GeometryCollection",geometries:[polygon(lowerOutline),polygon(longIsland)]};
svg.append("clipPath").attr("id","landClip").append("path").datum(landFeature).attr("d",path);

var land = svg.append("g");
land.append("path").datum(landFeature).attr("d",path).attr("fill",levelColors[0]).attr("stroke","#333").attr("stroke-width",1.2);
var inner = land.append("g").attr("clip-path","url(#landClip)");

function drawPatches(features,color) {
  inner.append("g").selectAll("path").data(features).join("path")
    .attr("d",path).attr("fill",color).attr("stroke",patchLine).attr("stroke-width",0.5);
}
drawPatches(substantialShapes.map(polygon).concat(substantialBoxes.map(box),substantialCells.map(cell)),levelColors[1]);
drawPatches(highBoxes.map(box).concat(highCells.map(cell)),levelColors[0]);
drawPatches(moderateShapes.map(polygon).concat(moderateBoxes.map(box),moderateCells.map(cell)),levelColors[2]);
drawPatches(lowShapes.map(polygon).concat(lowBoxes.map(box),lowCells.map(cell)),levelColors[3]);

// county lines
var westMesh = d3.geoGraticule().extent([[-125,25],[-103,50]]).step([1.1,0.9]);
var eastMesh = d3.geoGraticule().extent([[-103,25],[-66,50]]).step([0.5,0.4]);
inner.append("path").datum(westMesh()).attr("d",path).attr("fill","none").attr("stroke",meshColor).attr("stroke-width",0.7);
inner.append("path").datum(eastMesh()).attr("d",path).attr("fill","none").attr("stroke",meshColor).attr("stroke-width",0.7);

land.append("path").datum({type:"MultiLineString",coordinates:stateBorders.map(densify)}).attr("d",path).attr("fill","none").attr("stroke","#111").attr("stroke-width",1.1);

// Alaska
var akX = d3.scaleLinear().domain([-141,-130]).range([209,258.5]);
var akY = d3.scaleLinear().domain([60.3,69.65]).range([853,768]);
var akPath = d3.geoPath(d3.geoTransform({point:function(lon,lat){ this.stream.point(akX(lon),akY(lat)); }}));
var ak = svg.append("g");
function planar(r) { return {type:"Polygon",coordinates:[r.concat([r[0]])]}; }
ak.selectAll(".ak").data([alaskaOutline].concat(alaskaIslands).map(planar)).join("path").attr("d",akPath).attr("fill",levelColors[0]).attr("stroke","#333").attr("stroke-width",0.9);
ak.selectAll(".aks").data(alaskaSubstantial.map(planar)).join("path").attr("class","aks").attr("d",akPath).attr("fill",levelColors[1]).attr("stroke",meshColor).attr("stroke-width",0.5);

var hiProj = d3.geoMercator().center([-157.5,20.8]).scale(1900).translate([347,857]);
svg.append("g").selectAll("path").data(hawaiiIslands.map(polygon)).join("path").attr("d",d3.geoPath(hiProj)).attr("fill",levelColors[1]).attr("stroke","#444").attr("stroke-width",0.9);

var prProj = d3.geoMercator().center([-66.45,18.22]).scale(5100).translate([585,938]);
var prPath = d3.geoPath(prProj);
var pr = svg.append("g");
svg.append("clipPath").attr("id","prClip").append("path").datum(polygon(prMain)).attr("d",prPath);
pr.selectAll(".isl").data([prMain].concat(prIslands).map(polygon)).join("path").attr("d",prPath).attr("fill",levelColors[0]).attr("stroke","#444").attr("stroke-width",0.8);
var prInner = pr.append("g").attr("clip-path","url(#prClip)");
prInner.selectAll(".s").data(prSubstantial.map(box)).join("path").attr("class","s").attr("d",prPath).attr("fill",levelColors[1]);
prInner.selectAll(".m").data(prModerate.map(box)).join("path").attr("class","m").attr("d",prPath).attr("fill",levelColors[2]);
var prMesh = d3.geoGraticule().extent([[-67.4,17.8],[-65.5,18.6]]).step([0.12,0.1]);
prInner.append("path").datum(prMesh()).attr("d",prPath).attr("fill","none").attr("stroke",meshColor).attr("stroke-width",0.6);
pr.append("path").datum(polygon(virginIsland)).attr("d",prPath).attr("fill",levelColors[2]).attr("stroke","#444").attr("stroke-width",0.8);

var dcProj = d3.geoMercator().center([-77.015,38.89]).scale(15070).translate([376,970]);
svg.append("path").datum(polygon(dcOutline)).attr("d",d3.geoPath(dcProj)).attr("fill",levelColors[1]).attr("stroke","#444").attr("stroke-width",0.9);

var legend = svg.append("g").selectAll("g").data(levelNames).join("g").attr("transform",function(d,i){ return "translate(847,"+(908.5+i*25.8)+")"; });
legend.append("rect").attr("width",17.5).attr("height",17.5).attr("fill",function(d,i){ return levelColors[i]; }).attr("stroke","#555").attr("stroke-width",0.8);
legend.append("text").attr("x",31).attr("y",15.5).attr("font-size",21.5).attr("fill","#111").text(function(d){ return d; });
</script>
</body>
</html>
